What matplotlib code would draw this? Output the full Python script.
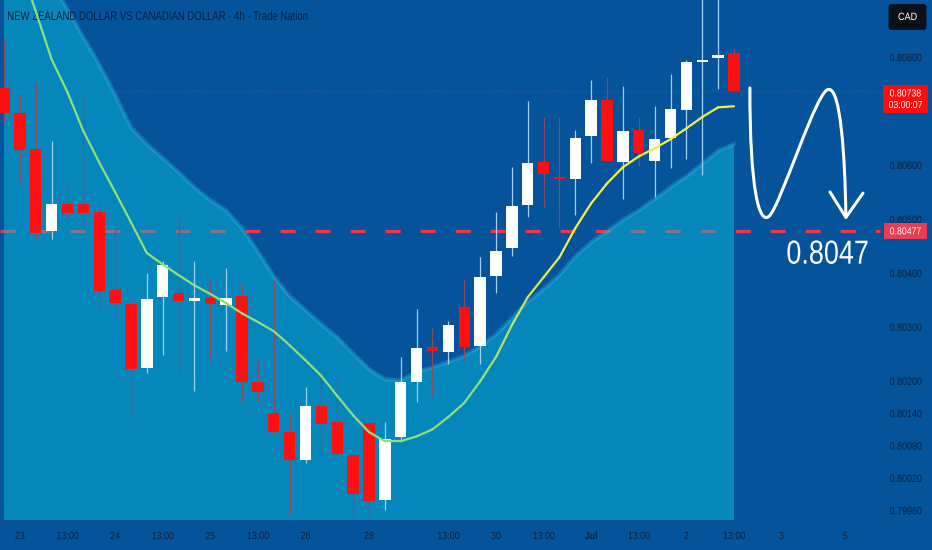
import numpy as np
import matplotlib
matplotlib.use("Agg")
import matplotlib.pyplot as plt
from matplotlib.collections import LineCollection
from matplotlib.path import Path
from matplotlib.patches import PathPatch
from matplotlib.patheffects import AbstractPathEffect
import matplotlib.transforms as mtransforms

# --- data (4h NZDCAD candles) ---
opens = [0.80743, 0.80696, 0.80629, 0.80477, 0.80527, 0.80527, 0.80513, 0.80368, 0.80342, 0.80223,
         0.80355, 0.80362, 0.80348, 0.80353, 0.80340, 0.80357, 0.80197, 0.80140, 0.80105, 0.80053,
         0.80153, 0.80123, 0.80062, 0.80121, 0.79979, 0.80095, 0.80197, 0.80262, 0.80253, 0.80336,
         0.80264, 0.80394, 0.80446, 0.80526, 0.80605, 0.80578, 0.80574, 0.80654, 0.80720, 0.80605,
         0.80665, 0.80607, 0.80650, 0.80702, 0.80791, 0.80798, 0.80807]
highs = [0.80832, 0.80730, 0.80752, 0.80644, 0.80572, 0.80730, 0.80531, 0.80479, 0.80349, 0.80400,
         0.80422, 0.80513, 0.80422, 0.80387, 0.80409, 0.80381, 0.80238, 0.80387, 0.80140, 0.80188,
         0.80214, 0.80205, 0.80075, 0.80123, 0.80123, 0.80244, 0.80333, 0.80298, 0.80311, 0.80388,
         0.80429, 0.80513, 0.80596, 0.80718, 0.80689, 0.80689, 0.80665, 0.80757, 0.80763, 0.80746,
         0.80689, 0.80709, 0.80768, 0.80794, 0.80925, 0.80925, 0.80817]
lows = [0.80678, 0.80566, 0.80461, 0.80463, 0.80498, 0.80479, 0.80335, 0.80316, 0.80133, 0.80214,
        0.80248, 0.80216, 0.80181, 0.80240, 0.80255, 0.80160, 0.80160, 0.80099, 0.79951, 0.80047,
        0.80068, 0.80060, 0.79945, 0.79932, 0.79960, 0.80090, 0.80160, 0.80171, 0.80231, 0.80238,
        0.80231, 0.80362, 0.80431, 0.80503, 0.80522, 0.80485, 0.80507, 0.80603, 0.80607, 0.80537,
        0.80598, 0.80540, 0.80594, 0.80611, 0.80581, 0.80741, 0.80737]
closes = [0.80696, 0.80628, 0.80474, 0.80527, 0.80511, 0.80511, 0.80366, 0.80344, 0.80222, 0.80351,
          0.80414, 0.80348, 0.80353, 0.80342, 0.80353, 0.80197, 0.80179, 0.80105, 0.80053, 0.80153,
          0.80120, 0.80064, 0.79990, 0.79977, 0.80092, 0.80197, 0.80260, 0.80255, 0.80303, 0.80262,
          0.80392, 0.80440, 0.80524, 0.80603, 0.80583, 0.80574, 0.80650, 0.80720, 0.80607, 0.80663,
          0.80622, 0.80648, 0.80704, 0.80791, 0.80794, 0.80804, 0.80738]

ema = [0.81063, 0.80972, 0.80885, 0.80796, 0.80735, 0.80663, 0.80605, 0.80550, 0.80494, 0.80437,
       0.80416, 0.80396, 0.80377, 0.80361, 0.80344, 0.80325, 0.80309, 0.80292, 0.80266, 0.80238,
       0.80209, 0.80172, 0.80136, 0.80105, 0.80088, 0.80088, 0.80097, 0.80110, 0.80133, 0.80159,
       0.80199, 0.80244, 0.80303, 0.80355, 0.80392, 0.80429, 0.80483, 0.80529, 0.80566, 0.80596,
       0.80616, 0.80631, 0.80648, 0.80668, 0.80689, 0.80707, 0.80709]

band_top = [0.81089, 0.81039, 0.80989, 0.80939, 0.80889, 0.80837, 0.80787, 0.80731, 0.80670, 0.80639,
            0.80613, 0.80587, 0.80559, 0.80535, 0.80516, 0.80483, 0.80440, 0.80394, 0.80357, 0.80331,
            0.80305, 0.80281, 0.80251, 0.80222, 0.80203, 0.80201, 0.80216, 0.80225, 0.80235, 0.80246,
            0.80264, 0.80286, 0.80316, 0.80346, 0.80370, 0.80396, 0.80431, 0.80457, 0.80477, 0.80498,
            0.80516, 0.80537, 0.80559, 0.80579, 0.80602, 0.80626, 0.80639]

last_price = 0.80738
target_price = 0.80477

x_tick_pos = [1, 4, 7, 10, 13, 16, 19, 23, 28, 31, 34, 37, 40, 43, 46, 49, 53]
x_tick_labels = ["23", "13:00", "24", "13:00", "25", "13:00", "26", "28", "13:00", "30",
                 "13:00", "Jul", "13:00", "2", "13:00", "3", "5"]
y_ticks = [0.80800, 0.80600, 0.80500, 0.80400, 0.80300, 0.80200, 0.80140, 0.80080, 0.80020, 0.79960]

# hand-drawn arrow (bar index, price) for the projected move
arrow_x = [47.0, 47.0, 47.6, 48.2, 48.9, 51.3, 52.0, 52.7, 53.0, 53.05]
arrow_y = [0.80743, 0.8055, 0.8049, 0.80505, 0.8052, 0.8075, 0.80740, 0.8074, 0.8062, 0.80503]
head_x = [52.05, 53.05, 54.13]
head_y = [0.80550, 0.80503, 0.80548]

# --- colours ---
BG = "#04539b"
AREA = "#09bbdb"
RED = "#ff1010"
TXT = "#0d1d38"
FONT = ["Liberation Sans", "DejaVu Sans"]


class Squeeze(AbstractPathEffect):
    """narrow the glyphs horizontally (tradingview uses a condensed face)"""
    def __init__(self, sx=0.84, anchor="center"):
        super().__init__()
        self.sx = sx
        self.anchor = anchor

    def draw_path(self, renderer, gc, tpath, affine, rgbFace=None):
        ext = tpath.get_extents()
        if self.anchor == "left":
            x0 = ext.x0
        else:
            x0 = (ext.x0 + ext.x1) / 2
        t = mtransforms.Affine2D().translate(-x0, 0).scale(self.sx, 1).translate(x0, 0) + affine
        renderer.draw_path(gc, tpath, t, rgbFace)


fig = plt.figure(figsize=(9.32, 5.5), dpi=100, facecolor=BG)
ax = fig.add_axes([0, 30 / 550, 880 / 932, 520 / 550], facecolor=BG)

n = len(opens)
xs = np.arange(n)

ax.set_xlim(-0.252, 55.2)
ax.set_ylim(0.79942, 0.80906)

# dashed target line (sits under the translucent area)
ax.axhline(target_price, color="#f23645", lw=2.3, dashes=(4.7, 6.26), zorder=1, clip_on=False)
ax.axhline(last_price, color="#d0304a", lw=0.9, ls=(0, (1, 2)), alpha=0.7, zorder=1)

# cloud area
ax.fill_between(xs, band_top, 0.79, color=AREA, alpha=0.5, lw=0, zorder=2)
ax.plot(xs, band_top, color="#2fb4e0", lw=3, alpha=0.35, zorder=2)

# candles
for i in range(n):
    up = closes[i] >= opens[i]
    body_c = "white" if up else RED
    wick_c = "#9fd2f2" if up else "#8a4a62"
    ax.vlines(i, lows[i], highs[i], color=wick_c, lw=0.9, zorder=3)
    lo, hi = min(opens[i], closes[i]), max(opens[i], closes[i])
    h = max(hi - lo, 0.00004)
    ax.bar(i, h, bottom=lo, width=0.72, color=body_c, lw=0, zorder=4)

# ema line, green fading into yellow
pts = np.column_stack([xs, ema]).reshape(-1, 1, 2)
segs = np.concatenate([pts[:-1], pts[1:]], axis=1)
green = np.array([0.58, 0.87, 0.47])
yellow = np.array([0.97, 0.93, 0.27])
cols = []
for i in range(n - 1):
    t = np.clip((i - 29) / 6, 0, 1)
    cols.append(green * (1 - t) + yellow * t)
ax.add_collection(LineCollection(segs, colors=cols, linewidths=1.6, zorder=5, capstyle="round"))

# arrow drawing
codes = [Path.MOVETO] + [Path.CURVE4] * 9
verts = list(zip(arrow_x, arrow_y))
ax.add_patch(PathPatch(Path(verts, codes), fill=False, ec="white", lw=2.2, zorder=6, capstyle="round"))
ax.plot(head_x, head_y, color="white", lw=2.2, zorder=6, solid_capstyle="round", solid_joinstyle="round")
big = ax.text(51.9, 0.80433, "0.8047", color="white", fontsize=24, family=FONT,
              ha="center", va="center", zorder=6)
big.set_path_effects([Squeeze(0.81)])

# title
title = ax.text(7 / 880, 1 - 17 / 520, "NEW ZEALAND DOLLAR VS CANADIAN DOLLAR · 4h · Trade Nation",
                transform=ax.transAxes, color=TXT, fontsize=9, family=FONT, va="center", ha="left")
title.set_path_effects([Squeeze(0.765, "left")])

# axes
for s in ax.spines.values():
    s.set_visible(False)
ax.yaxis.tick_right()
ax.set_yticks(y_ticks)
ax.set_yticklabels([f"{v:.5f}" for v in y_ticks], family=FONT, fontsize=7.6, color=TXT)
ax.set_xticks(x_tick_pos)
ax.set_xticklabels(x_tick_labels, family=FONT, fontsize=7.6, color=TXT)
for lbl in ax.get_xticklabels():
    lbl.set_path_effects([Squeeze(0.84)])
    if lbl.get_text() == "Jul":
        lbl.set_fontweight("bold")
for lbl in ax.get_yticklabels():
    lbl.set_path_effects([Squeeze(0.84, "left")])
ax.tick_params(axis="both", length=0)
ax.tick_params(axis="y", pad=7)
ax.tick_params(axis="x", pad=8)

# price boxes on right scale
trans = mtransforms.blended_transform_factory(fig.transFigure, ax.transData)
b1 = ax.text(905.5 / 932, last_price - 0.00016, "0.80738\n03:00:07", transform=trans, ha="center",
             va="center", color="white", fontsize=7.3, family=FONT, linespacing=1.2,
             bbox=dict(boxstyle="square,pad=0.3", fc="#ff0c0c", ec="none"), zorder=7)
b2 = ax.text(905.5 / 932, target_price, "0.80477", transform=trans, ha="center", va="center",
             color="white", fontsize=7.3, family=FONT,
             bbox=dict(boxstyle="square,pad=0.3", fc="#ec3c52", ec="none"), zorder=7)
for b in (b1, b2):
    b.set_path_effects([Squeeze(0.86)])

# currency badge
cad = fig.text(907.5 / 932, 1 - 17 / 550, "CAD", ha="center", va="center", color="white", fontsize=7.6,
               family=FONT, bbox=dict(boxstyle="round,pad=0.75,rounding_size=0.3", fc="#0b0f18", ec="none"))
cad.set_path_effects([Squeeze(0.86)])

fig.savefig("out.png", dpi=100, facecolor=BG)
